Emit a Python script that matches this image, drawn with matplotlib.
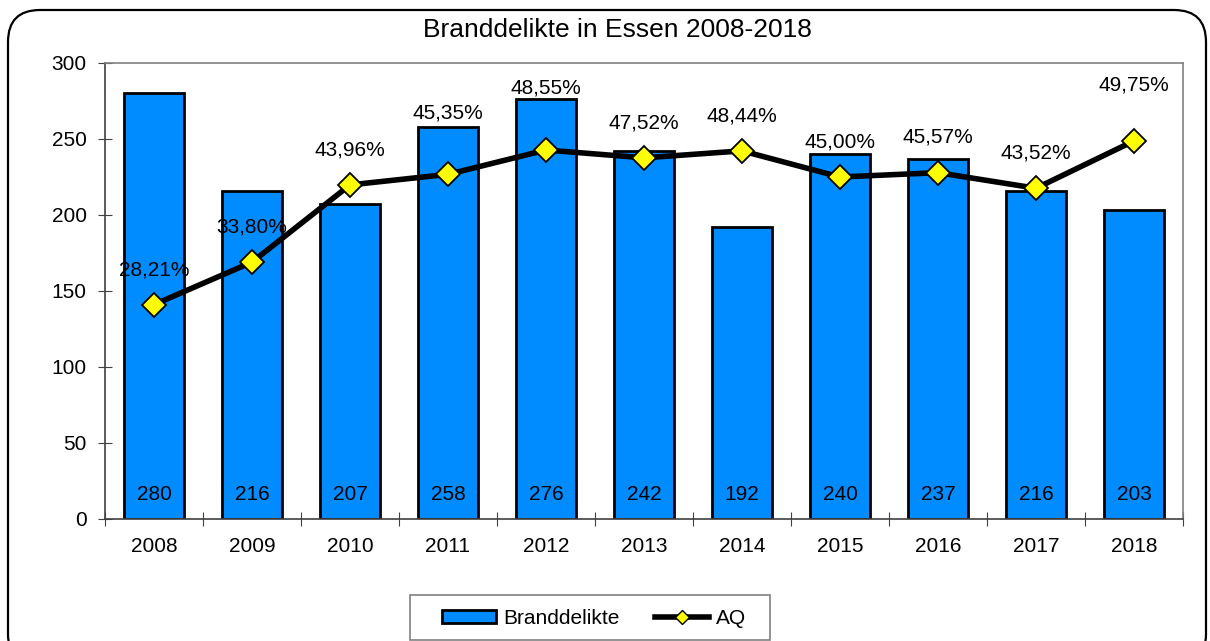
import matplotlib.pyplot as plt
from matplotlib.patches import FancyBboxPatch, Patch, Rectangle
from matplotlib.lines import Line2D

plt.rcParams['font.family'] = ['Liberation Sans', 'DejaVu Sans']

years = ["2008", "2009", "2010", "2011", "2012", "2013", "2014", "2015", "2016", "2017", "2018"]
branddelikte = [280, 216, 207, 258, 276, 242, 192, 240, 237, 216, 203]
aq = [28.21, 33.80, 43.96, 45.35, 48.55, 47.52, 48.44, 45.00, 45.57, 43.52, 49.75]

# label offsets above the AQ markers (pixels), some were moved by hand in the original
label_dy = [35, 35, 35, 61, 62, 35, 35, 35, 36, 35, 56]

fs = 15
fig = plt.figure(figsize=(12.10, 6.41), dpi=100)
ax = fig.add_axes([105 / 1210, 1 - 519 / 641, (1183 - 105) / 1210, (519 - 63) / 641])

x = list(range(len(years)))
ax.bar(x, branddelikte, width=0.62, color="#008CFF", edgecolor="black", linewidth=2, zorder=2)
for xi, v in zip(x, branddelikte):
    ax.text(xi, 16, str(v), ha="center", va="center", fontsize=fs, zorder=3)

ax.set_xlim(-0.5, len(years) - 0.5)
ax.set_ylim(0, 300)
ax.set_yticks(range(0, 301, 50))
ax.tick_params(axis="y", direction="inout", length=9.5, width=0.8, color="#404040", labelsize=fs, pad=8.5)

ax.set_xticks([i + 0.5 for i in range(-1, len(years))])
ax.set_xticklabels([])
ax.tick_params(axis="x", which="major", direction="inout", length=9.5, width=0.8, color="#404040")
ax.set_xticks(x, minor=True)
ax.set_xticklabels(years, minor=True)
ax.tick_params(axis="x", which="minor", length=0, labelsize=fs, pad=13)

for s in ["top", "right"]:
    ax.spines[s].set_color("#808080")
    ax.spines[s].set_linewidth(1.2)
ax.spines["left"].set_color("#404040")
ax.spines["bottom"].set_color("#404040")
ax.spines["left"].set_linewidth(1.2)
ax.spines["bottom"].set_linewidth(1.2)

ax2 = ax.twinx()
ax2.set_ylim(0, 60)
ax2.set_yticks([])
for s in ax2.spines.values():
    s.set_visible(False)
ax2.plot(x, aq, color="black", linewidth=4, marker="D", markersize=12.5,
         markerfacecolor="#FFFF00", markeredgecolor="black", markeredgewidth=1.3, zorder=4)
for xi, v, dy in zip(x, aq, label_dy):
    ax2.annotate(f"{v:.2f}%".replace(".", ","), (xi, v), xytext=(0, dy),
                 textcoords="offset pixels", ha="center", va="center", fontsize=fs)

fig.text(617 / 1210, 1 - 37 / 641, "Branddelikte in Essen 2008-2018", ha="center", va="baseline",
         fontsize=19)

handles = [Patch(facecolor="#008CFF", edgecolor="black", linewidth=2),
           Line2D([0], [0], color="black", linewidth=4, marker="D", markersize=7,
                  markerfacecolor="#FFFF00", markeredgecolor="black", markeredgewidth=1)]
leg = fig.legend(handles, ["Branddelikte", "AQ"], loc="center", bbox_to_anchor=(594 / 1210, 1 - 618 / 641),
                 ncol=2, fontsize=fs, frameon=False, handlelength=2.6, handleheight=0.6,
                 handletextpad=0.35, columnspacing=1.7)
# legend frame is wider than its content in the original
fig.patches.append(Rectangle((410 / 1210, 1 - 640 / 641), 360 / 1210, 45 / 641, transform=fig.transFigure,
                             facecolor="none", edgecolor="#808080", linewidth=1.2))

# rounded outer border, in inches (bottom edge runs off the image)
border = FancyBboxPatch((0.08, -0.25), 11.98, 6.56,
                        boxstyle="round,pad=0,rounding_size=0.32", transform=fig.dpi_scale_trans,
                        facecolor="none", edgecolor="black", linewidth=1.6)
fig.patches.append(border)

fig.savefig("out.png", dpi=100)
